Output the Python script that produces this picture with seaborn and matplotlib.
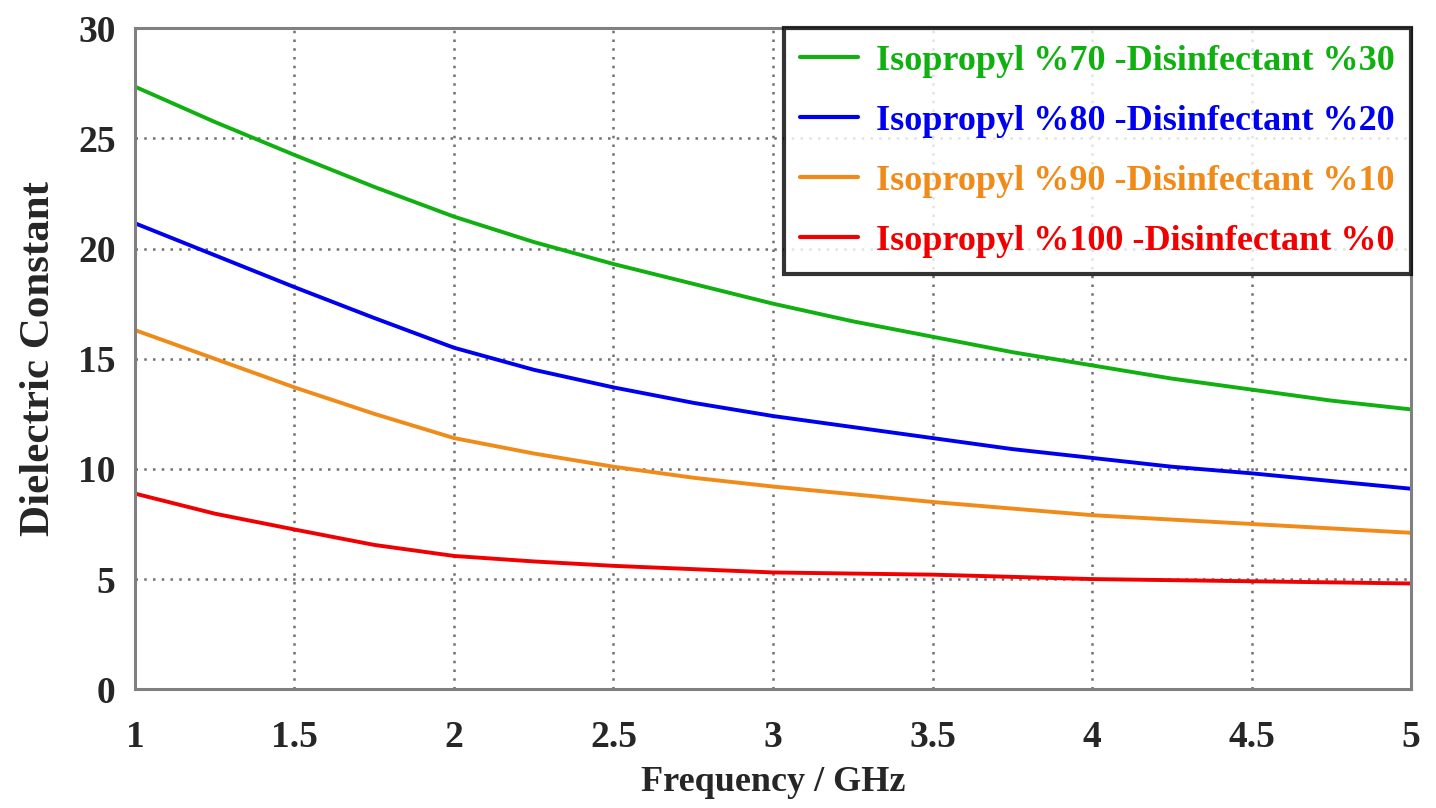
import numpy as np
import pandas as pd
import matplotlib
matplotlib.use("Agg")
import matplotlib.pyplot as plt
import seaborn as sns

freq = [1.0, 1.25, 1.5, 1.75, 2.0, 2.25, 2.5, 2.75, 3.0, 3.25, 3.5, 3.75, 4.0, 4.25, 4.5, 4.75, 5.0]
iso70 = [27.35, 25.75, 24.25, 22.8, 21.45, 20.3, 19.3, 18.4, 17.5, 16.7, 16.0, 15.3, 14.7, 14.1, 13.6, 13.1, 12.7]
iso80 = [21.15, 19.7, 18.25, 16.85, 15.5, 14.5, 13.7, 13.0, 12.4, 11.9, 11.4, 10.9, 10.5, 10.1, 9.8, 9.45, 9.1]
iso90 = [16.3, 15.0, 13.7, 12.5, 11.4, 10.7, 10.1, 9.6, 9.2, 8.85, 8.5, 8.2, 7.9, 7.7, 7.5, 7.3, 7.1]
iso100 = [8.88, 7.97, 7.25, 6.55, 6.05, 5.8, 5.6, 5.45, 5.3, 5.25, 5.2, 5.1, 5.0, 4.95, 4.9, 4.85, 4.8]

labels = ["Isopropyl %70 -Disinfectant %30",
          "Isopropyl %80 -Disinfectant %20",
          "Isopropyl %90 -Disinfectant %10",
          "Isopropyl %100 -Disinfectant %0"]
colors = ["#10b010", "#0000f0", "#f08a18", "#f00000"]
series = [iso70, iso80, iso90, iso100]

x_ticks = [1, 1.5, 2, 2.5, 3, 3.5, 4, 4.5, 5]
x_tick_labels = ["1", "1.5", "2", "2.5", "3", "3.5", "4", "4.5", "5"]
y_ticks = [0, 5, 10, 15, 20, 25, 30]

rows = []
for lab, vals in zip(labels, series):
    for f, v in zip(freq, vals):
        rows.append({"Frequency": f, "Dielectric": v, "Mixture": lab})
df = pd.DataFrame(rows)

sns.set_style("white")
plt.rcParams['font.family'] = ['Liberation Serif', 'DejaVu Serif']
plt.rcParams['font.weight'] = 'bold'

fig = plt.figure(figsize=(14.36, 8.08), dpi=100)
ax = fig.add_axes([0.094, 0.147, 0.8886, 0.818])

sns.lineplot(data=df, x="Frequency", y="Dielectric", hue="Mixture",
             hue_order=labels, palette=colors, linewidth=2.8, ax=ax, legend=True)

ax.set_xlim(1, 5)
ax.set_ylim(0, 30)
ax.set_xticks(x_ticks)
ax.set_xticklabels(x_tick_labels)
ax.set_yticks(y_ticks)
ax.grid(True, color="#707070", linestyle=(0, (1, 2.5)), linewidth=1.8)
for s in ax.spines.values():
    s.set_color("#808080")
    s.set_linewidth(2.2)
ax.tick_params(axis="both", direction="inout", length=8, width=1.5, color="#808080",
               labelsize=27)
ax.tick_params(axis="x", pad=18)
ax.tick_params(axis="y", pad=10)
for t in ax.get_xticklabels() + ax.get_yticklabels():
    t.set_fontweight("bold")
ax.set_xlabel("Frequency / GHz", fontsize=26, fontweight="bold", labelpad=8)
ax.set_ylabel("Dielectric Constant", fontsize=31, fontweight="bold", labelpad=14)

leg = ax.legend(loc="upper right", bbox_to_anchor=(1.0, 1.0), fontsize=26,
                frameon=True, fancybox=False, handlelength=1.6, handletextpad=0.5,
                borderpad=0.45, labelspacing=0.74, borderaxespad=0.0)
leg.get_frame().set_edgecolor("black")
leg.get_frame().set_linewidth(3)
for txt, c in zip(leg.get_texts(), colors):
    txt.set_color(c)
    txt.set_fontweight("bold")
for line in leg.get_lines():
    line.set_linewidth(3)

fig.savefig("out.png", dpi=100, facecolor="white")
